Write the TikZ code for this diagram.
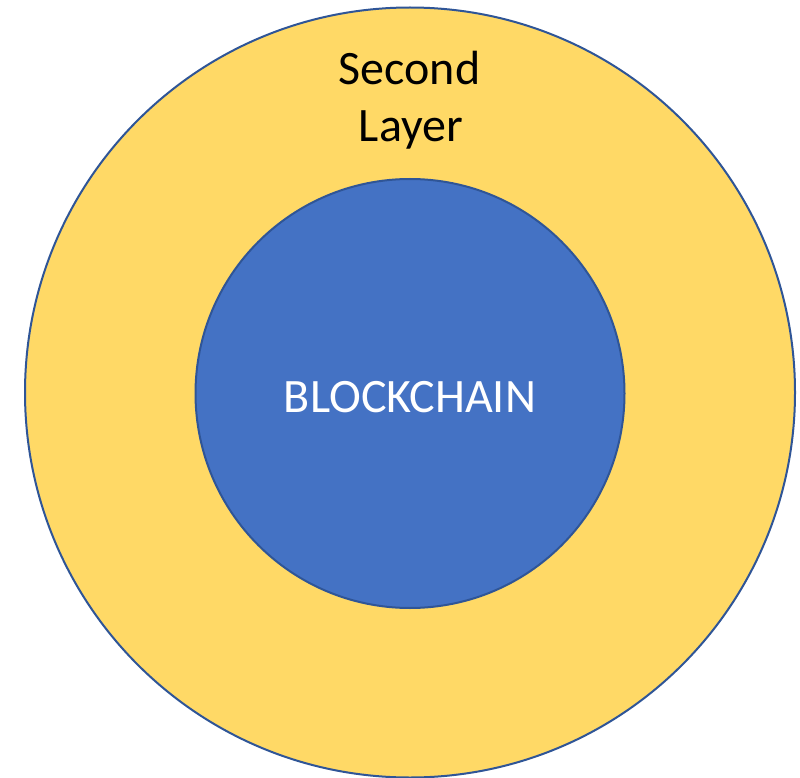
\documentclass[tikz,border=0pt]{standalone}
\usepackage{fontspec}
\setmainfont{Carlito}
\definecolor{gold}{HTML}{FFD966}
\definecolor{bcblue}{HTML}{4472C4}
\definecolor{edge}{HTML}{2F5597}
\begin{document}
\begin{tikzpicture}[x=1pt,y=1pt,
  ring/.style={draw=edge,line width=2pt},
  lbl/.style={anchor=base,inner sep=0pt,font=\fontsize{48}{57}\selectfont}]
\useasboundingbox (0,0) rectangle (800,-778);
\fill[white] (0,0) rectangle (800,-778);
\node[ring,fill=gold,circle,minimum size=770pt,inner sep=0pt] (outer) at (410,-392.5) {};
\node[ring,fill=bcblue,circle,minimum size=429pt,inner sep=0pt] (inner) at (410,-393.5) {};
\node[lbl] (second) at (409.5,-85) {Second};
\node[lbl] (layer) at (411,-142) {Layer};
\node[lbl,text=white] (bc) at (410,-412) {BLOCKCHAIN};
\end{tikzpicture}
\end{document}
